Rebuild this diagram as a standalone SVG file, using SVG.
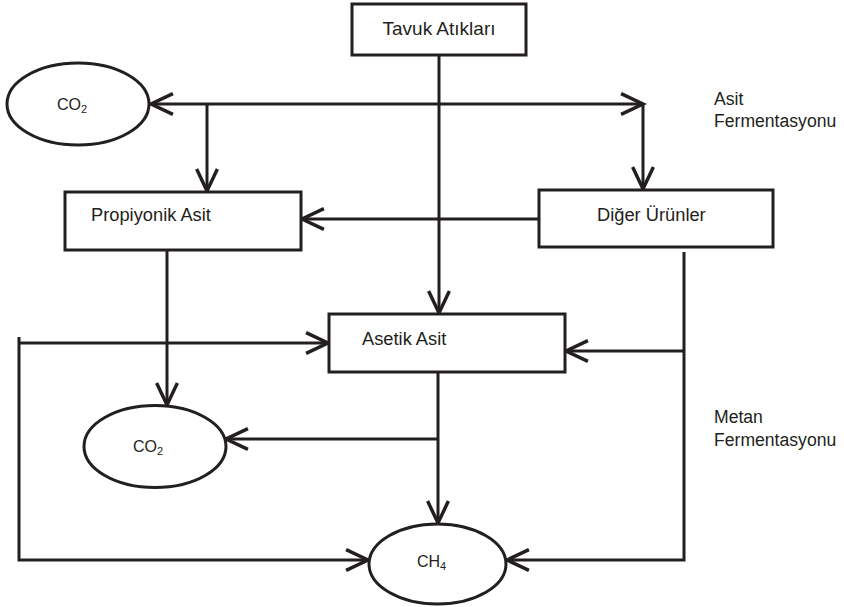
<svg xmlns="http://www.w3.org/2000/svg" width="844" height="607" viewBox="0 0 844 607">
<style>
.box{fill:#fff;stroke:#231f20;stroke-width:3}
.ln{fill:none;stroke:#231f20;stroke-width:3}
.t{font-family:"Liberation Sans",Arial,sans-serif;font-size:18.3px;fill:#231f20}
.s{font-family:"Liberation Sans",Arial,sans-serif;font-size:16px;fill:#231f20}
.lb{font-family:"Liberation Sans",Arial,sans-serif;font-size:17.6px;fill:#231f20}
.sub{font-size:11px}
</style>
<defs>
<marker id="a" markerUnits="userSpaceOnUse" markerWidth="30" markerHeight="30" refX="0" refY="0" viewBox="-22 -12 26 24" orient="auto" overflow="visible">
<path d="M-19,-9 L0,0 L-19,9" fill="none" stroke="#231f20" stroke-width="3"/>
</marker>
</defs>
<g id="connectors">
<path class="ln" d="M439,55 V313" marker-end="url(#a)"/>
<path class="ln" d="M439,104 H151" marker-end="url(#a)"/>
<path class="ln" d="M439,104 H643" marker-end="url(#a)"/>
<path class="ln" d="M643,104 V189"  marker-end="url(#a)"/>
<path class="ln" d="M207,104 V191" marker-end="url(#a)"/>
<path class="ln" d="M539,219 H302" marker-end="url(#a)"/>
<path class="ln" d="M167,250 V405" marker-end="url(#a)"/>
<path class="ln" d="M19,337 V560 H368" marker-end="url(#a)"/>
<path class="ln" d="M19,343 H328" marker-end="url(#a)"/>
<path class="ln" d="M684,252 V560 H507" marker-end="url(#a)"/>
<path class="ln" d="M684,351 H566" marker-end="url(#a)"/>
<path class="ln" d="M438,372 V523" marker-end="url(#a)"/>
<path class="ln" d="M438,439 H226" marker-end="url(#a)"/>
</g>
<g id="tavuk">
<rect class="box" x="352" y="4" width="174" height="51"/>
<text class="t" x="439" y="35" text-anchor="middle" style="font-size:19px">Tavuk Atıkları</text>
</g>
<g id="co2-top">
<ellipse class="box" cx="78" cy="104" rx="71" ry="41"/>
<text class="s" x="57" y="110">CO<tspan class="sub" dy="3">2</tspan></text>
</g>
<g id="propiyonik">
<rect class="box" x="65" y="192" width="236" height="58"/>
<text class="t" x="91" y="221">Propiyonik Asit</text>
</g>
<g id="diger">
<rect class="box" x="539" y="190" width="234" height="57"/>
<text class="t" x="597" y="221">Diğer Ürünler</text>
</g>
<g id="asetik">
<rect class="box" x="329" y="314" width="236" height="58"/>
<text class="t" x="362" y="345">Asetik Asit</text>
</g>
<g id="co2-bottom">
<ellipse class="box" cx="155" cy="446.5" rx="71" ry="41"/>
<text class="s" x="133" y="452">CO<tspan class="sub" dy="3">2</tspan></text>
</g>
<g id="ch4">
<ellipse class="box" cx="437.5" cy="564" rx="68.5" ry="40"/>
<text class="s" x="417" y="567">CH<tspan class="sub" dy="3">4</tspan></text>
</g>
<g id="labels">
<text class="lb" x="714" y="105">Asit</text>
<text class="lb" x="714" y="127">Fermentasyonu</text>
<text class="lb" x="714" y="423">Metan</text>
<text class="lb" x="714" y="446">Fermentasyonu</text>
</g>
</svg>
